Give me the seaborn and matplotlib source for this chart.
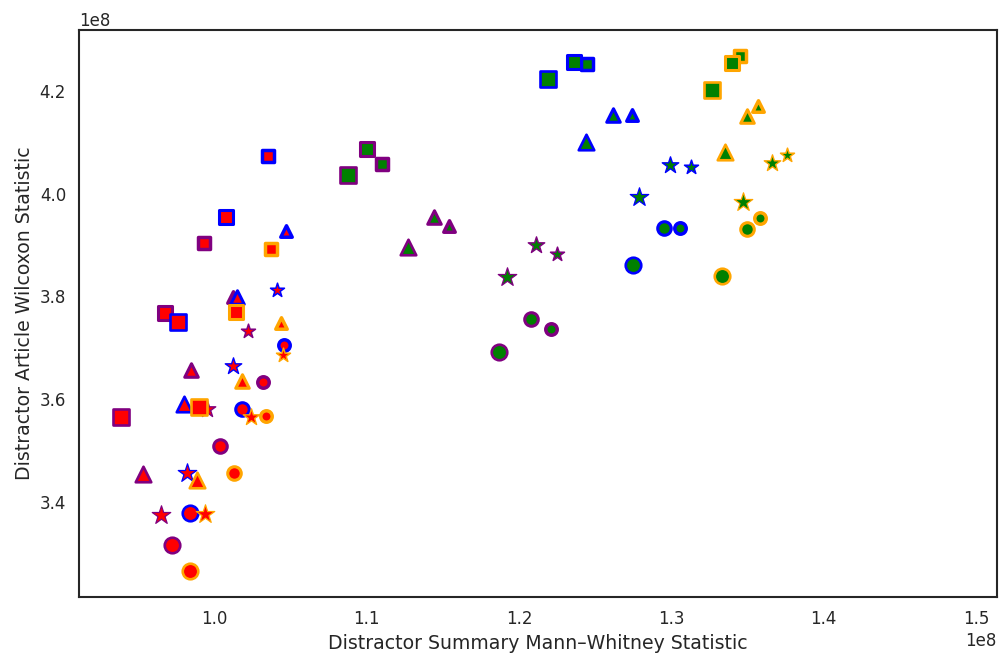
import pandas as pd
import numpy as np
import matplotlib
matplotlib.use("Agg")
import matplotlib.pyplot as plt
import seaborn as sns

# point order inside each list: purple edge (L, M, S), blue edge (L, M, S), orange edge (L, M, S)
# values in units of 1e8
red_square_x = [0.939, 0.968, 0.993, 0.976, 1.008, 1.035, 0.990, 1.014, 1.037]
red_square_y = [3.565, 3.767, 3.904, 3.750, 3.954, 4.073, 3.584, 3.769, 3.892]
red_triangle_x = [0.953, 0.985, 1.0125, 0.980, 1.015, 1.047, 0.989, 1.018, 1.044]
red_triangle_y = [3.453, 3.656, 3.798, 3.590, 3.798, 3.927, 3.442, 3.635, 3.748]
red_star_x = [0.965, 0.995, 1.022, 0.982, 1.0125, 1.041, 0.994, 1.024, 1.045]
red_star_y = [3.374, 3.580, 3.732, 3.455, 3.664, 3.812, 3.375, 3.565, 3.685]
red_circle_x = [0.972, 1.004, 1.032, 0.984, 1.018, 1.046, 0.984, 1.013, 1.034]
red_circle_y = [3.315, 3.508, 3.633, 3.377, 3.580, 3.705, 3.264, 3.455, 3.567]

green_square_x = [1.088, 1.100, 1.110, 1.219, 1.236, 1.245, 1.327, 1.340, 1.345]
green_square_y = [4.036, 4.087, 4.058, 4.225, 4.258, 4.253, 4.202, 4.255, 4.268]
green_triangle_x = [1.127, 1.144, 1.154, 1.244, 1.262, 1.274, 1.335, 1.350, 1.357]
green_triangle_y = [3.896, 3.954, 3.937, 4.101, 4.153, 4.153, 4.081, 4.151, 4.171]
green_star_x = [1.192, 1.211, 1.225, 1.279, 1.299, 1.313, 1.347, 1.366, 1.376]
green_star_y = [3.837, 3.900, 3.882, 3.993, 4.056, 4.052, 3.984, 4.060, 4.075]
green_circle_x = [1.187, 1.208, 1.221, 1.275, 1.295, 1.306, 1.333, 1.350, 1.358]
green_circle_y = [3.691, 3.756, 3.736, 3.861, 3.933, 3.933, 3.839, 3.931, 3.952]

edge_colors = ['purple', 'blue', 'orange']
size_levels = ['L', 'M', 'S']

series = {
    ('red', 's'): (red_square_x, red_square_y),
    ('red', '^'): (red_triangle_x, red_triangle_y),
    ('red', '*'): (red_star_x, red_star_y),
    ('red', 'o'): (red_circle_x, red_circle_y),
    ('green', 's'): (green_square_x, green_square_y),
    ('green', '^'): (green_triangle_x, green_triangle_y),
    ('green', '*'): (green_star_x, green_star_y),
    ('green', 'o'): (green_circle_x, green_circle_y),
}

rows = []
for (face, marker), (xs, ys) in series.items():
    for i, (xv, yv) in enumerate(zip(xs, ys)):
        rows.append({'face': face, 'marker': marker,
                     'edge': edge_colors[i // 3], 'level': size_levels[i % 3],
                     'summary': xv * 1e8, 'article': yv * 1e8})
df = pd.DataFrame(rows)

# marker area / edge width per size level (stars get their own, thin-edged)
SIZE = {'L': 125, 'M': 95, 'S': 68}
LW = {'L': 1.9, 'M': 2.2, 'S': 2.5}
STAR_SIZE = {'L': 195, 'M': 155, 'S': 112}
STAR_LW = {'L': 0.9, 'M': 1.0, 'S': 1.1}

sns.set_theme(style="white")
plt.rcParams.update({'axes.labelsize': 13.6, 'xtick.labelsize': 12,
                     'ytick.labelsize': 12, 'axes.linewidth': 1.5})
fig, ax = plt.subplots(figsize=(10.03, 6.59), dpi=100)
fig.subplots_adjust(left=0.079, right=0.994, top=0.954, bottom=0.094)

for edge in edge_colors:
    for level in ['S', 'M', 'L']:
        for (face, marker) in series:
            sub = df[(df['edge'] == edge) & (df['level'] == level) &
                     (df['face'] == face) & (df['marker'] == marker)]
            if marker == '*':
                s, lw = STAR_SIZE[level], STAR_LW[level]
            else:
                s, lw = SIZE[level], LW[level]
            sns.scatterplot(data=sub, x='summary', y='article', marker=marker,
                            color=face, edgecolor=edge, s=s, linewidth=lw,
                            ax=ax, legend=False, zorder=3)

ax.set_xlim(0.9114e8, 1.5138e8)
ax.set_ylim(3.2137e8, 4.319e8)
ax.set_xlabel("Distractor Summary Mann–Whitney Statistic")
ax.set_ylabel("Distractor Article Wilcoxon Statistic")

plt.savefig("out.png", dpi=100)
plt.close()
